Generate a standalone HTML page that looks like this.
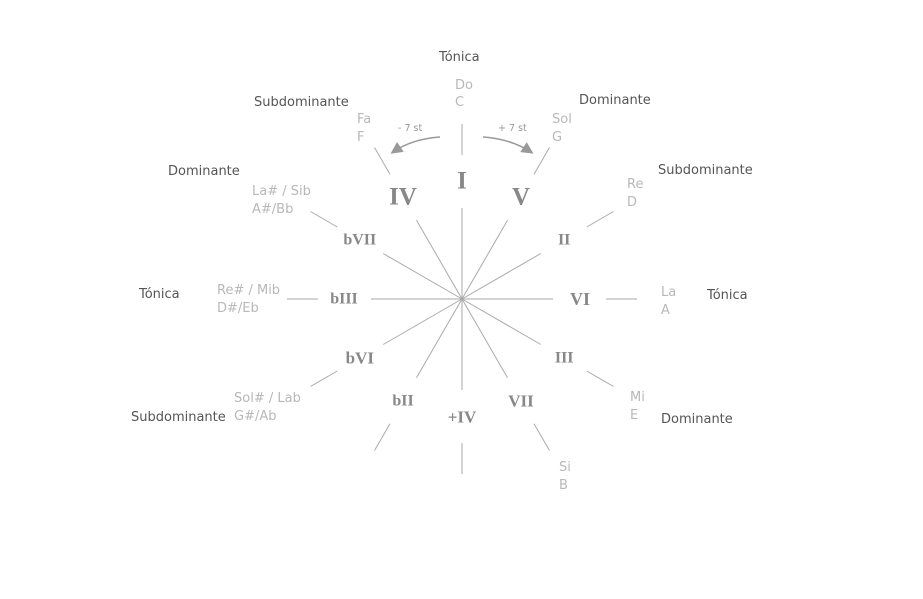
<!DOCTYPE html>
<html><head><meta charset="utf-8">
<style>
html,body{margin:0;padding:0;background:#fff;}
body{width:923px;height:599px;overflow:hidden;position:relative;}
svg{position:absolute;left:0;top:0;}
.fn{font-family:"DejaVu Sans","Liberation Sans",sans-serif;font-size:13px;fill:#555;}
.nt{font-family:"DejaVu Sans","Liberation Sans",sans-serif;font-size:13px;fill:#b8b8b8;}
.st{font-family:"DejaVu Sans","Liberation Sans",sans-serif;font-size:9.5px;fill:#999;}
.rn{font-family:"Liberation Serif",serif;font-weight:bold;fill:#888;}
</style></head>
<body>
<svg id="chart" width="923" height="599" viewBox="0 0 923 599">
  <g id="spokes"></g>
  <g id="romans"></g>

  <!-- arrows -->
  <defs>
    <marker id="ah" markerWidth="8" markerHeight="8" refX="6" refY="4" orient="auto">
      <path d="M0,0 L8,4 L0,8 Z" fill="#999"/>
    </marker>
  </defs>
  <path d="M440,137 Q412,139 393,152" fill="none" stroke="#999" stroke-width="1.5" marker-end="url(#ah)"/>
  <path d="M483,137 Q511,139 531,152" fill="none" stroke="#999" stroke-width="1.5" marker-end="url(#ah)"/>
  <text class="st" x="398" y="131">- 7 st</text>
  <text class="st" x="498" y="131">+ 7 st</text>

  <!-- note names -->
  <g>
    <text class="nt" x="455" y="89">Do</text><text class="nt" x="455" y="106">C</text>
    <text class="nt" x="552" y="123">Sol</text><text class="nt" x="552" y="141">G</text>
    <text class="nt" x="627" y="188">Re</text><text class="nt" x="627" y="206">D</text>
    <text class="nt" x="661" y="296">La</text><text class="nt" x="661" y="314">A</text>
    <text class="nt" x="630" y="401">Mi</text><text class="nt" x="630" y="419">E</text>
    <text class="nt" x="559" y="471">Si</text><text class="nt" x="559" y="489">B</text>
    <text class="nt" x="234" y="402">Sol# / Lab</text><text class="nt" x="234" y="420">G#/Ab</text>
    <text class="nt" x="217" y="294">Re# / Mib</text><text class="nt" x="217" y="312">D#/Eb</text>
    <text class="nt" x="252" y="195">La# / Sib</text><text class="nt" x="252" y="213">A#/Bb</text>
    <text class="nt" x="357" y="123">Fa</text><text class="nt" x="357" y="141">F</text>
  </g>

  <!-- function labels -->
  <g>
    <text class="fn" x="439" y="61">Tónica</text>
    <text class="fn" x="579" y="104">Dominante</text>
    <text class="fn" x="658" y="174">Subdominante</text>
    <text class="fn" x="707" y="299">Tónica</text>
    <text class="fn" x="661" y="423">Dominante</text>
    <text class="fn" x="131" y="421">Subdominante</text>
    <text class="fn" x="139" y="298">Tónica</text>
    <text class="fn" x="168" y="175">Dominante</text>
    <text class="fn" x="254" y="106">Subdominante</text>
  </g>
</svg>
<script>
// data: roman numerals clockwise from top, 30° apart
const romans = ["I","V","II","VI","III","VII","+IV","bII","bVI","bIII","bVII","IV"];
const romanSizes = [25,25,16,18,16,17,17,16,17,16,16,25];
const hasOuter = [true,true,true,true,true,true,true,true,true,true,true,true];
const angleStep = 30;

const cx = 462, cy = 299;
const rInner = 91, rLabel = 118, rOut1 = 144, rOut2 = 175;
const NS = "http://www.w3.org/2000/svg";
function pt(angleDeg, r){ const a = angleDeg*Math.PI/180; return [cx + r*Math.sin(a), cy - r*Math.cos(a)]; }

const gS = document.getElementById('spokes');
const gR = document.getElementById('romans');
romans.forEach((lab,i)=>{
  const ang = i*angleStep;
  const [x1,y1] = pt(ang,rInner);
  const l = document.createElementNS(NS,'line');
  l.setAttribute('x1',cx); l.setAttribute('y1',cy); l.setAttribute('x2',x1); l.setAttribute('y2',y1);
  l.setAttribute('stroke','#aaa'); l.setAttribute('stroke-width','1');
  
  
  gS.appendChild(l);
  if(hasOuter[i]){
    const [a1,b1] = pt(ang,rOut1), [a2,b2] = pt(ang,rOut2);
    const o = document.createElementNS(NS,'line');
    o.setAttribute('x1',a1); o.setAttribute('y1',b1); o.setAttribute('x2',a2); o.setAttribute('y2',b2);
    o.setAttribute('stroke','#aaa'); o.setAttribute('stroke-width','1');
    
    
    gS.appendChild(o);
  }
  const [tx,ty] = pt(ang,rLabel);
  const t = document.createElementNS(NS,'text');
  t.setAttribute('x',tx); t.setAttribute('y',ty);
  t.setAttribute('text-anchor','middle'); t.setAttribute('dominant-baseline','central');
  t.setAttribute('class','rn'); t.setAttribute('font-size',romanSizes[i]);
  t.textContent = lab;
  
  
  gR.appendChild(t);
});
</script>
</body></html>
